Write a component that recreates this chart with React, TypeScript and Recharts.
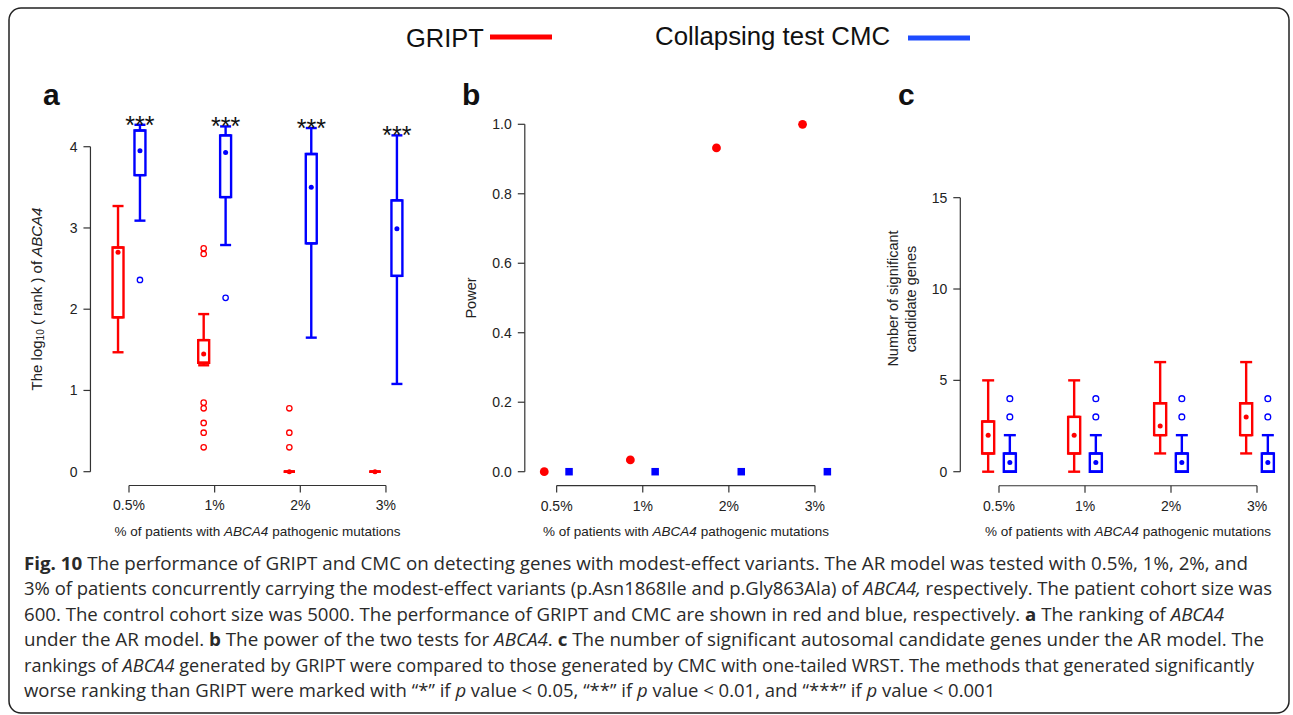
import React from 'react';
import { ComposedChart, Scatter, XAxis, YAxis, ErrorBar, ReferenceArea, ReferenceLine } from 'recharts';

const W = 1293;
const H = 715;
const FONT = '"Liberation Sans", Arial, Helvetica, sans-serif';
const CAPTION_FONT = '"Open Sans", "Noto Sans", sans-serif';
const RED = '#ff0000';
const BLUE = '#0000ff';
const AXIS = '#333333';
const Y_AXIS_W = 50;
const X_AXIS_H = 30;

// shared categories
const categories = ['0.5%', '1%', '2%', '3%'];

// a: log10(rank) of ABCA4
const griptRankLo = [1.47, 1.31, 0, 0];
const griptRankQ1 = [1.9, 1.34, 0, 0];
const griptRankMid = [2.7, 1.45, 0, 0];
const griptRankQ3 = [2.76, 1.62, 0, 0];
const griptRankHi = [3.27, 1.94, 0, 0];
const griptRankOut = [[], [2.75, 2.68, 0.85, 0.78, 0.6, 0.48, 0.3], [0.78, 0.48, 0.3], []];
const cmcRankLo = [3.09, 2.79, 1.65, 1.08];
const cmcRankQ1 = [3.65, 3.38, 2.81, 2.41];
const cmcRankMid = [3.95, 3.93, 3.5, 2.99];
const cmcRankQ3 = [4.2, 4.14, 3.91, 3.34];
const cmcRankHi = [4.27, 4.25, 4.23, 4.14];
const cmcRankOut = [[2.36], [2.14], [], []];
const significance = ['***', '***', '***', '***'];
const rankTicks = [0, 1, 2, 3, 4];

// b: power
const griptPower = [0, 0.034, 0.932, 1.0];
const cmcPower = [0, 0, 0, 0];
const powerTicks = [0, 0.2, 0.4, 0.6, 0.8, 1.0];

// c: number of significant candidate genes
const griptGenesLo = [0, 0, 1, 1];
const griptGenesQ1 = [1, 1, 2, 2];
const griptGenesMid = [2, 2, 2.5, 3];
const griptGenesQ3 = [2.75, 3, 3.75, 3.75];
const griptGenesHi = [5, 5, 6, 6];
const cmcGenesLo = [0, 0, 0, 0];
const cmcGenesQ1 = [0, 0, 0, 0];
const cmcGenesMid = [0.5, 0.5, 0.5, 0.5];
const cmcGenesQ3 = [1, 1, 1, 1];
const cmcGenesHi = [2, 2, 2, 2];
const cmcGenesOut = [[3, 4], [3, 4], [3, 4], [3, 4]];
const genesTicks = [0, 5, 10, 15];

const catTicks = categories.map((_, i) => i + 1);

type Box = { x: number; lo: number; q1: number; mid: number; q3: number; hi: number };
type Plot = { left: number; right: number; top: number; bottom: number };

const makeBoxes = (lo: number[], q1: number[], mid: number[], q3: number[], hi: number[], off: number): Box[] =>
  categories.map((_, i) => ({ x: i + 1 + off, lo: lo[i], q1: q1[i], mid: mid[i], q3: q3[i], hi: hi[i] }));

const makeOutliers = (out: number[][], off: number) =>
  out.flatMap((vals, i) => vals.map(v => ({ x: i + 1 + off, y: v })));

const chartMargin = (p: Plot) => ({
  left: p.left - Y_AXIS_W,
  top: p.top,
  right: W - p.right,
  bottom: H - p.bottom - X_AXIS_H,
});

const Hidden = () => <g />;
const dot = (fill: string, r: number) => (p: any) => <circle cx={p.cx} cy={p.cy} r={r} fill={fill} />;
const ring = (stroke: string, r: number) => (p: any) => (
  <circle cx={p.cx} cy={p.cy} r={r} fill="none" stroke={stroke} strokeWidth={1.3} />
);
const square = (fill: string, s: number) => (p: any) => (
  <rect x={p.cx - s / 2} y={p.cy - s / 2} width={s} height={s} fill={fill} />
);

function boxPlot(key: string, boxes: Box[], color: string, halfBox: number, capHalf: number, dotR: number) {
  const upper = boxes.map(b => ({ x: b.x, y: b.q3, err: [0, b.hi - b.q3] }));
  const lower = boxes.map(b => ({ x: b.x, y: b.q1, err: [b.q1 - b.lo, 0] }));
  const mids = boxes.map(b => ({ x: b.x, y: b.mid }));
  return [
    <Scatter key={key + '-up'} data={upper} shape={Hidden} isAnimationActive={false}>
      <ErrorBar dataKey="err" direction="y" width={capHalf} stroke={color} strokeWidth={2.4} />
    </Scatter>,
    <Scatter key={key + '-low'} data={lower} shape={Hidden} isAnimationActive={false}>
      <ErrorBar dataKey="err" direction="y" width={capHalf} stroke={color} strokeWidth={2.4} />
    </Scatter>,
    ...boxes.map((b, i) => (
      <ReferenceArea
        key={key + '-box-' + i}
        x1={b.x - halfBox}
        x2={b.x + halfBox}
        y1={b.q1}
        y2={b.q3}
        fill="none"
        stroke={color}
        strokeWidth={2.4}
        ifOverflow="visible"
      />
    )),
    <Scatter key={key + '-mid'} data={mids} shape={dot(color, dotR)} isAnimationActive={false} />,
  ];
}

function rAxes(key: string, xDomain: number[], yDomain: number[], yTicks: number[], yFmt?: (v: number) => string) {
  return [
    <XAxis
      key={key + '-x'}
      type="number"
      dataKey="x"
      domain={xDomain}
      ticks={catTicks}
      tickFormatter={(v: number) => categories[Math.round(v) - 1]}
      axisLine={false}
      tickSize={7}
      tickMargin={8}
      height={X_AXIS_H}
      tick={{ fill: '#222', fontSize: 14, fontFamily: FONT }}
      tickLine={{ stroke: AXIS, strokeWidth: 1.2 }}
    />,
    <YAxis
      key={key + '-y'}
      type="number"
      dataKey="y"
      domain={yDomain}
      ticks={yTicks}
      tickFormatter={yFmt}
      axisLine={false}
      tickSize={7}
      tickMargin={6}
      width={Y_AXIS_W}
      tick={{ fill: '#222', fontSize: 14, fontFamily: FONT }}
      tickLine={{ stroke: AXIS, strokeWidth: 1.2 }}
    />,
    <ReferenceLine
      key={key + '-xline'}
      segment={[{ x: catTicks[0], y: yDomain[0] }, { x: catTicks[catTicks.length - 1], y: yDomain[0] }]}
      stroke={AXIS}
      strokeWidth={1.2}
      ifOverflow="visible"
    />,
    <ReferenceLine
      key={key + '-yline'}
      segment={[{ x: xDomain[0], y: yTicks[0] }, { x: xDomain[0], y: yTicks[yTicks.length - 1] }]}
      stroke={AXIS}
      strokeWidth={1.2}
      ifOverflow="visible"
    />,
  ];
}

const layer: React.CSSProperties = { position: 'absolute', left: 0, top: 0 };

const PanelA = () => {
  const plot = { left: 90.45, right: 424.5, top: 106.1, bottom: 485.5 };
  const xDomain = [0.55, 4.45];
  const yDomain = [-0.17, 4.5];
  const off = 0.128;
  const red = makeBoxes(griptRankLo, griptRankQ1, griptRankMid, griptRankQ3, griptRankHi, -off);
  const blue = makeBoxes(cmcRankLo, cmcRankQ1, cmcRankMid, cmcRankQ3, cmcRankHi, off);
  const stars = blue.map((b, i) => ({ x: b.x, y: b.hi, label: significance[i] }));
  return (
    <div style={layer}>
      <ComposedChart width={W} height={H} margin={chartMargin(plot)}>
        {rAxes('a', xDomain, yDomain, rankTicks)}
        {boxPlot('a-red', red, RED, 0.064, 5.5, 2.5)}
        {boxPlot('a-blue', blue, BLUE, 0.064, 5.5, 2.5)}
        <Scatter data={makeOutliers(griptRankOut, -off)} shape={ring(RED, 2.7)} isAnimationActive={false} />
        <Scatter data={makeOutliers(cmcRankOut, off)} shape={ring(BLUE, 2.7)} isAnimationActive={false} />
        <Scatter
          data={stars}
          isAnimationActive={false}
          shape={(p: any) => (
            <text x={p.cx} y={p.cy + 9} textAnchor="middle" fontSize={25} fontFamily={FONT} fill="#111">
              {p.payload.label}
            </text>
          )}
        />
      </ComposedChart>
    </div>
  );
};

const PanelB = () => {
  const plot = { left: 524.8, right: 849.4, top: 96.5, bottom: 485.6 };
  const xDomain = [0.63, 4.4];
  const yDomain = [-0.04, 1.08];
  const off = 0.144;
  const red = griptPower.map((v, i) => ({ x: i + 1 - off, y: v }));
  const blue = cmcPower.map((v, i) => ({ x: i + 1 + off, y: v }));
  return (
    <div style={layer}>
      <ComposedChart width={W} height={H} margin={chartMargin(plot)}>
        {rAxes('b', xDomain, yDomain, powerTicks, (v: number) => v.toFixed(1))}
        <Scatter data={red} shape={dot(RED, 4.4)} isAnimationActive={false} />
        <Scatter data={blue} shape={square(BLUE, 7.5)} isAnimationActive={false} />
      </ComposedChart>
    </div>
  );
};

const PanelC = () => {
  const plot = { left: 960.3, right: 1282.8, top: 179.4, bottom: 485.77 };
  const xDomain = [0.55, 4.3];
  const yDomain = [-0.77, 16];
  const off = 0.126;
  const red = makeBoxes(griptGenesLo, griptGenesQ1, griptGenesMid, griptGenesQ3, griptGenesHi, -off);
  const blue = makeBoxes(cmcGenesLo, cmcGenesQ1, cmcGenesMid, cmcGenesQ3, cmcGenesHi, off);
  return (
    <div style={layer}>
      <ComposedChart width={W} height={H} margin={chartMargin(plot)}>
        {rAxes('c', xDomain, yDomain, genesTicks)}
        {boxPlot('c-red', red, RED, 0.07, 6, 2.5)}
        {boxPlot('c-blue', blue, BLUE, 0.07, 6, 2.5)}
        <Scatter data={makeOutliers(cmcGenesOut, off)} shape={ring(BLUE, 2.9)} isAnimationActive={false} />
      </ComposedChart>
    </div>
  );
};

type Seg = { t: string; s?: 'b' | 'i' };
const captionLines: Seg[][] = [
  [{ t: 'Fig. 10', s: 'b' }, { t: ' The performance of GRIPT and CMC on detecting genes with modest-effect variants. The AR model was tested with 0.5%, 1%, 2%, and' }],
  [{ t: '3% of patients concurrently carrying the modest-effect variants (p.Asn1868Ile and p.Gly863Ala) of ' }, { t: 'ABCA4,', s: 'i' }, { t: ' respectively. The patient cohort size was' }],
  [{ t: '600. The control cohort size was 5000. The performance of GRIPT and CMC are shown in red and blue, respectively. ' }, { t: 'a', s: 'b' }, { t: ' The ranking of ' }, { t: 'ABCA4', s: 'i' }],
  [{ t: 'under the AR model. ' }, { t: 'b', s: 'b' }, { t: ' The power of the two tests for ' }, { t: 'ABCA4', s: 'i' }, { t: '. ' }, { t: 'c', s: 'b' }, { t: ' The number of significant autosomal candidate genes under the AR model. The' }],
  [{ t: 'rankings of ' }, { t: 'ABCA4', s: 'i' }, { t: ' generated by GRIPT were compared to those generated by CMC with one-tailed WRST. The methods that generated significantly' }],
  [{ t: 'worse ranking than GRIPT were marked with \u201c*\u201d if ' }, { t: 'p', s: 'i' }, { t: ' value < 0.05, \u201c**\u201d if ' }, { t: 'p', s: 'i' }, { t: ' value < 0.01, and \u201c***\u201d if ' }, { t: 'p', s: 'i' }, { t: ' value < 0.001' }],
];
// right edge of each caption line; the last one keeps its natural width
const captionEnds = [1248, 1272, 1224, 1264, 1254, 0];

const xTitle = (cx: number) => (
  <text x={cx} y={536} textAnchor="middle" fontSize={13.5} fontFamily={FONT} fill="#222">
    % of patients with <tspan fontStyle="italic">ABCA4</tspan> pathogenic mutations
  </text>
);

const Decorations = () => (
  <svg width={W} height={H} style={layer}>
    <rect x={9} y={8} width={1280} height={705} rx={12} fill="none" stroke="#222" strokeWidth={1.5} />
    {/* legend */}
    <text x={406} y={47} fontSize={25.5} fontFamily={FONT} fill="#111">GRIPT</text>
    <line x1={490} x2={552} y1={37} y2={37} stroke={RED} strokeWidth={5} />
    <text x={655} y={45} fontSize={25.8} fontFamily={FONT} fill="#111">Collapsing test CMC</text>
    <line x1={908} x2={970} y1={38} y2={38} stroke="#1d4bff" strokeWidth={5} />
    {/* panel letters */}
    <text x={43} y={105} fontSize={30} fontWeight="bold" fontFamily={FONT} fill="#111">a</text>
    <text x={462} y={105} fontSize={30} fontWeight="bold" fontFamily={FONT} fill="#111">b</text>
    <text x={898} y={105} fontSize={30} fontWeight="bold" fontFamily={FONT} fill="#111">c</text>
    {/* axis titles */}
    <text transform="rotate(-90, 36, 299)" x={36} y={299} textAnchor="middle" dominantBaseline="central" fontSize={15} fontFamily={FONT} fill="#222">
      The log<tspan fontSize={10} dy={4}>10</tspan><tspan dy={-4}> ( rank ) of </tspan><tspan fontStyle="italic">ABCA4</tspan>
    </text>
    <text transform="rotate(-90, 471, 298)" x={471} y={298} textAnchor="middle" dominantBaseline="central" fontSize={14.5} fontFamily={FONT} fill="#222">Power</text>
    <text transform="rotate(-90, 892.5, 298.5)" x={892.5} y={298.5} textAnchor="middle" dominantBaseline="central" fontSize={14.5} fontFamily={FONT} fill="#222">Number of significant</text>
    <text transform="rotate(-90, 910.5, 299)" x={910.5} y={299} textAnchor="middle" dominantBaseline="central" fontSize={14.5} fontFamily={FONT} fill="#222">candidate genes</text>
    {xTitle(257.5)}
    {xTitle(686)}
    {xTitle(1128)}
    {/* caption */}
    {captionLines.map((line, i) => (
      <text
        key={i}
        x={24}
        y={570 + i * 25.4}
        fontSize={18.5}
        fontFamily={CAPTION_FONT}
        fill="#2a2a2a"
        textLength={captionEnds[i] ? captionEnds[i] - 24 : undefined}
        lengthAdjust={captionEnds[i] ? 'spacingAndGlyphs' : undefined}
      >
        {line.map((seg, j) => (
          <tspan key={j} fontWeight={seg.s === 'b' ? 'bold' : undefined} fontStyle={seg.s === 'i' ? 'italic' : undefined}>
            {seg.t}
          </tspan>
        ))}
      </text>
    ))}
  </svg>
);

export default function App() {
  return (
    <div style={{ position: 'absolute', left: 0, top: 0, width: W, height: H, background: '#fff' }}>
      <Decorations />
      <PanelA />
      <PanelB />
      <PanelC />
    </div>
  );
}
